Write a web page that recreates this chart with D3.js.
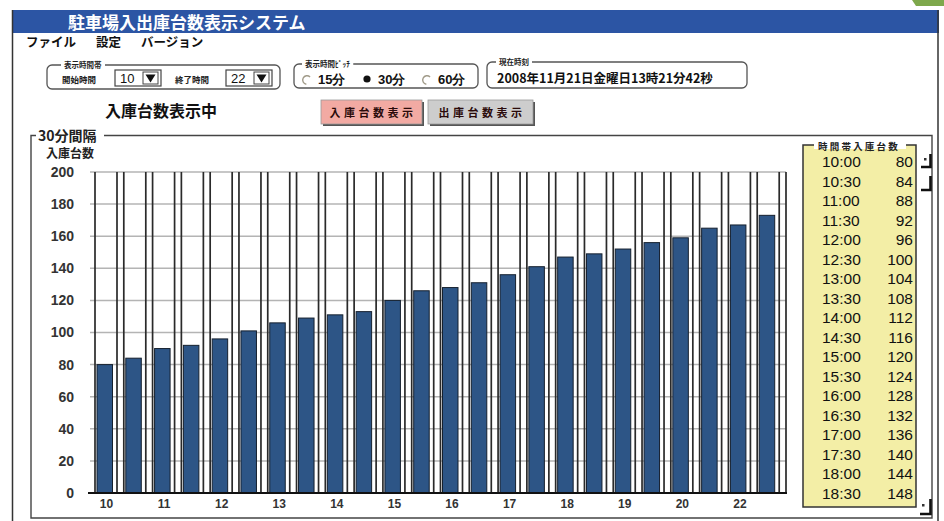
<!DOCTYPE html>
<html>
<head>
<meta charset="utf-8">
<script src="https://cdn.jsdelivr.net/npm/d3@7"></script>
<style>
  body { margin: 0; background: #fff; }
  svg { display: block; }
  text { font-family: "Noto Sans CJK JP", "Liberation Sans", sans-serif; }
  .num { font-family: "Liberation Sans", Arial, sans-serif; }
</style>
</head>
<body>
<svg id="chart" width="944" height="521"></svg>
<script>
// half-hour slots shown as bars
const times = ["10:00","10:30","11:00","11:30","12:00","12:30","13:00","13:30",
  "14:00","14:30","15:00","15:30","16:00","16:30","17:00","17:30",
  "18:00","18:30","19:00","19:30","20:00","20:30","21:00","21:30"];
const inCounts = [80,84,90,92,96,101,106,109,111,113,120,126,
  128,131,136,141,147,149,152,156,159,165,167,173];
// x labels under every second bar (the original shows 22 where 21 would be)
const xLabels = ["10","11","12","13","14","15","16","17","18","19","20","22"];
const yTicks = [0,20,40,60,80,100,120,140,160,180,200];

// list on the right
const listTimes = ["10:00","10:30","11:00","11:30","12:00","12:30","13:00","13:30","14:00",
  "14:30","15:00","15:30","16:00","16:30","17:00","17:30","18:00","18:30"];
const listCounts = [80,84,88,92,96,100,104,108,112,116,120,124,128,132,136,140,144,148];

const svg = d3.select("#chart");

// ---------- window frame ----------
svg.append("polygon").attr("points", "912,0 944,0 944,6 916,6").attr("fill", "#7ea84c");
svg.append("rect").attr("x", 12).attr("y", 10).attr("width", 927).attr("height", 23).attr("fill", "#2c55a4");
svg.append("text").attr("x", 68).attr("y", 28.5).attr("fill", "#fff")
  .attr("font-size", 17).attr("font-weight", "bold").text("駐車場入出庫台数表示システム");
svg.append("line").attr("x1", 12.5).attr("x2", 12.5).attr("y1", 10).attr("y2", 521).attr("stroke", "#333").attr("stroke-width", 1.5);
svg.append("line").attr("x1", 938).attr("x2", 938).attr("y1", 10).attr("y2", 521).attr("stroke", "#333").attr("stroke-width", 1.5);

// menu
[["ファイル", 26], ["設定", 96], ["バージョン", 141]].forEach(function(m) {
  svg.append("text").attr("x", m[1]).attr("y", 47).attr("font-size", 12.5)
    .attr("font-weight", "bold").attr("fill", "#111").text(m[0]);
});

function groupBox(x, y, w, h, label, size, lx) {
  svg.append("rect").attr("x", x).attr("y", y).attr("width", w).attr("height", h)
    .attr("rx", 5).attr("fill", "none").attr("stroke", "#555").attr("stroke-width", 1.3);
  const t = svg.append("text").attr("x", lx).attr("y", y + size * 0.4)
    .attr("font-size", size).attr("font-weight", "bold").attr("fill", "#222").text(label);
  const b = t.node().getBBox();
  svg.insert("rect", "text:last-child").attr("x", b.x - 3).attr("y", y - 2)
    .attr("width", b.width + 6).attr("height", 4).attr("fill", "#fff");
  t.raise();
}

function dropDown(x, val) {
  svg.append("rect").attr("x", x).attr("y", 70).attr("width", 46).attr("height", 16)
    .attr("fill", "#fff").attr("stroke", "#444").attr("stroke-width", 1.2);
  svg.append("text").attr("class", "num").attr("x", x + 5).attr("y", 83).attr("font-size", 13)
    .attr("fill", "#111").text(val);
  svg.append("rect").attr("x", x + 28).attr("y", 72).attr("width", 15).attr("height", 12)
    .attr("fill", "#fff").attr("stroke", "#444");
  svg.append("path").attr("d", `M${x + 30.5},74.5 L${x + 40.5},74.5 L${x + 35.5},82.5 Z`).attr("fill", "#111");
}

groupBox(47, 65, 233, 24, "表示時間帯", 7.5, 64);
svg.append("text").attr("x", 62).attr("y", 83).attr("font-size", 8.5).attr("font-weight", "bold").attr("fill", "#222").text("開始時間");
dropDown(115, "10");
svg.append("text").attr("x", 175).attr("y", 83).attr("font-size", 8.5).attr("font-weight", "bold").attr("fill", "#222").text("終了時間");
dropDown(226, "22");

groupBox(294, 64, 184, 24, "表示時間ﾋﾟｯﾁ", 7.5, 305);
[[307, "15分", false], [367, "30分", true], [427, "60分", false]].forEach(function(r) {
  if (r[2]) {
    svg.append("circle").attr("cx", r[0]).attr("cy", 79).attr("r", 3.6).attr("fill", "#111");
  } else {
    svg.append("path").attr("d", d3.arc()({innerRadius: 3.6, outerRadius: 5, startAngle: Math.PI * 1.05, endAngle: Math.PI * 2.25}))
      .attr("transform", `translate(${r[0]},80)`).attr("fill", "#a09a88");
  }
  svg.append("text").attr("class", "num").attr("x", r[0] + 11).attr("y", 83.5).attr("font-size", 13)
    .attr("font-weight", "bold").attr("fill", "#111").text(r[1]);
});

groupBox(487, 62, 260, 26, "現在時刻", 7.5, 499);
svg.append("text").attr("x", 497).attr("y", 82.5).attr("font-size", 12.5).attr("font-weight", "bold")
  .attr("fill", "#111").text("2008年11月21日金曜日13時21分42秒");

svg.append("text").attr("x", 105).attr("y", 117).attr("font-size", 16).attr("font-weight", "bold")
  .attr("fill", "#111").text("入庫台数表示中");

function button(x, w, fill, label) {
  svg.append("rect").attr("x", x + 2).attr("y", 102).attr("width", w).attr("height", 24).attr("fill", "#555");
  svg.append("rect").attr("x", x).attr("y", 100).attr("width", w).attr("height", 24)
    .attr("fill", fill).attr("stroke", "#999").attr("stroke-width", 0.8);
  svg.append("text").attr("x", x + w / 2 + 1.5).attr("y", 117).attr("text-anchor", "middle")
    .attr("font-size", 11).attr("font-weight", "bold").attr("letter-spacing", 3.5)
    .attr("fill", "#2a0a0a").text(label);
}
button(321, 101, "#f2aaa3", "入庫台数表示");
button(428, 105, "#cdcdcd", "出庫台数表示");

// chart group box
svg.append("path").attr("d", "M104,135.5 L932,135.5 L932,518 L31,518 L31,135.5 L36,135.5")
  .attr("fill", "none").attr("stroke", "#444").attr("stroke-width", 1.4);
svg.append("text").attr("x", 38).attr("y", 141).attr("font-size", 14).attr("font-weight", "bold")
  .attr("fill", "#222").text("30分間隔");
svg.append("text").attr("x", 46).attr("y", 158).attr("font-size", 12).attr("font-weight", "bold")
  .attr("fill", "#222").text("入庫台数");

// ---------- bar chart ----------
const x = d3.scaleBand().domain(times).range([95, 786]);
const y = d3.scaleLinear().domain([0, 200]).range([493, 172]);
const boxW = 22;

const plot = svg.append("g");
plot.selectAll(".grid").data(yTicks.slice(1)).enter().append("line")
  .attr("x1", 90).attr("x2", 786).attr("y1", d => y(d)).attr("y2", d => y(d))
  .attr("stroke", "#b4b4b4").attr("stroke-width", 1.5);

plot.selectAll(".vl").data(times).enter().append("line")
  .attr("x1", d => x(d)).attr("x2", d => x(d)).attr("y1", y(200)).attr("y2", y(0))
  .attr("stroke", "#2a2a2a").attr("stroke-width", 1.7);
plot.selectAll(".vr").data(times).enter().append("line")
  .attr("x1", d => x(d) + boxW).attr("x2", d => x(d) + boxW).attr("y1", y(200)).attr("y2", y(0))
  .attr("stroke", "#2a2a2a").attr("stroke-width", 1.7);
plot.append("line").attr("x1", 786).attr("x2", 786).attr("y1", y(200)).attr("y2", y(0))
  .attr("stroke", "#2a2a2a").attr("stroke-width", 1.7);

plot.selectAll(".bar").data(inCounts).enter().append("rect")
  .attr("x", (d, i) => x(times[i]) + 2).attr("width", 15.5)
  .attr("y", d => y(d)).attr("height", d => y(0) - y(d))
  .attr("fill", "#2d5586").attr("stroke", "#15202e").attr("stroke-width", 1);

plot.append("line").attr("x1", 88).attr("x2", 787).attr("y1", y(0)).attr("y2", y(0))
  .attr("stroke", "#111").attr("stroke-width", 2);

const yAxis = svg.append("g").attr("transform", "translate(90,0)")
  .call(d3.axisLeft(y).tickValues(yTicks).tickSize(0).tickPadding(16));
yAxis.select(".domain").remove();
yAxis.selectAll("text").attr("class", "num").attr("font-size", 14).attr("font-weight", "bold")
  .attr("fill", "#333").attr("font-family", "Liberation Sans, Arial, sans-serif");

svg.selectAll(".xl").data(xLabels).enter().append("text").attr("class", "num")
  .attr("x", (d, i) => x(times[i * 2]) + 11.5).attr("y", 508).attr("text-anchor", "middle")
  .attr("font-size", 12).attr("font-weight", "bold").attr("fill", "#333").text(d => d);

// ---------- right list ----------
svg.append("rect").attr("x", 803).attr("y", 145).attr("width", 113).attr("height", 362)
  .attr("fill", "#f3eea6").attr("stroke", "#333").attr("stroke-width", 1.5);
svg.append("rect").attr("x", 814).attr("y", 141).attr("width", 92).attr("height", 8).attr("fill", "#fff");
svg.append("text").attr("x", 818).attr("y", 150).attr("font-size", 9.5).attr("font-weight", "bold")
  .attr("fill", "#222").attr("letter-spacing", 2.2).text("時間帯入庫台数");
svg.selectAll(".lt").data(listTimes).enter().append("text").attr("class", "num")
  .attr("x", 822).attr("y", (d, i) => 167 + i * 19.5).attr("font-size", 15.5).attr("fill", "#111").text(d => d);
svg.selectAll(".lc").data(listCounts).enter().append("text").attr("class", "num")
  .attr("x", 913).attr("y", (d, i) => 167 + i * 19.5).attr("text-anchor", "end")
  .attr("font-size", 15.5).attr("fill", "#111").text(d => d);

// scroll marks
[["M930.5,154 L930.5,167 L921,167", 924, 158], ["M930.5,176 L930.5,190 L921,190", null], ["M930.5,499 L930.5,514 L920,514", 922, 504]]
  .forEach(function(s) {
    svg.append("path").attr("d", s[0]).attr("fill", "none").attr("stroke", "#111").attr("stroke-width", 2.6);
    if (s[1]) svg.append("rect").attr("x", s[1]).attr("y", s[2]).attr("width", 2.5).attr("height", 2.5).attr("fill", "#333");
  });
</script>
</body>
</html>
